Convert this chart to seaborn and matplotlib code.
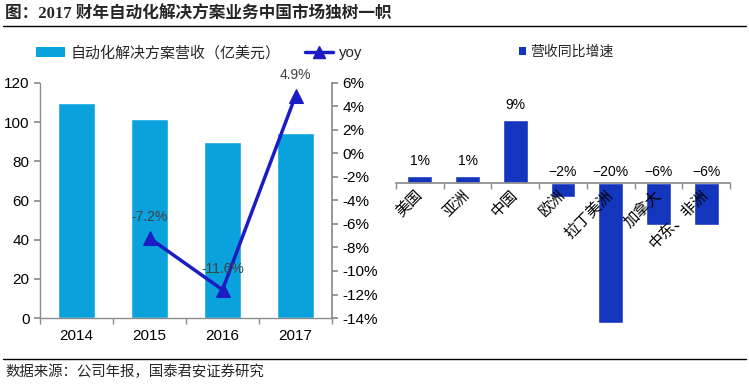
import matplotlib
matplotlib.use('Agg')
import matplotlib.pyplot as plt
import seaborn as sns
import pandas as pd
from matplotlib.lines import Line2D
from matplotlib.patches import Patch

# ---- data ----
years = ['2014', '2015', '2016', '2017']
revenue = [109.8, 101.7, 90.0, 94.4]
yoy_years = ['2015', '2016', '2017']
yoy = [-7.2, -11.6, 4.9]
yoy_labels = ['-7.2%', '-11.6%', '4.9%']
left_ticks = [0, 20, 40, 60, 80, 100, 120]
right_ticks = [-14, -12, -10, -8, -6, -4, -2, 0, 2, 4, 6]
right_tick_labels = ['-14%', '-12%', '-10%', '-8%', '-6%', '-4%', '-2%', '0%', '2%', '4%', '6%']

regions = ['美国', '亚洲', '中国', '欧洲', '拉丁美洲', '加拿大', '中东、非洲']
growth = [1, 1, 9, -2, -20, -6, -6]
growth_labels = ['1%', '1%', '9%', '\u22122%', '\u221220%', '\u22126%', '\u22126%']

title = '图：2017 财年自动化解决方案业务中国市场独树一帜'
source = '数据来源：公司年报，国泰君安证券研究'
bar_name = '自动化解决方案营收（亿美元）'
line_name = 'yoy'
growth_name = '营收同比增速'

# ---- style ----
sns.set_theme(style='white')
plt.rcParams['font.family'] = ['Liberation Sans', 'Noto Sans CJK SC', 'DejaVu Sans']
bar_color = '#0AA2DC'
line_color = '#1C1CC4'
bar2_color = '#1436BE'
spine_color = '#8C8C8C'
W, H = 749, 385

fig = plt.figure(figsize=(W / 100, H / 100), dpi=100)

# ---- left chart ----
ax = fig.add_axes([40 / W, 67 / H, 292 / W, 235 / H])
df = pd.DataFrame({'year': years, 'rev': revenue})
sns.barplot(data=df, x='year', y='rev', color=bar_color, saturation=1,
            width=0.52, ax=ax)
ax.set_xlim(-0.5, len(years) - 0.5)
ax.set_ylim(0, 120)
ax.set_yticks(left_ticks)
ax.set_xlabel('')
ax.set_ylabel('')
ax.set_xticks([i - 0.5 for i in range(len(years) + 1)], minor=True)
ax.tick_params(axis='x', which='major', length=0, labelsize=11, pad=8, colors='black')
ax.tick_params(axis='x', which='minor', length=4, color=spine_color, direction='out', bottom=True)
ax.tick_params(axis='y', length=4, color=spine_color, direction='out', left=True,
               labelsize=11, colors='black')
for s in ['top', 'right']:
    ax.spines[s].set_visible(False)
for s in ['left', 'bottom']:
    ax.spines[s].set_color(spine_color)
    ax.spines[s].set_linewidth(1)

ax2 = ax.twinx()
xpos = [years.index(y) for y in yoy_years]
sns.lineplot(x=xpos, y=yoy, ax=ax2, color=line_color, linewidth=2.5,
             marker='^', markersize=10, markeredgecolor=line_color)
ax2.set_ylim(-14, 6)
ax2.set_yticks(right_ticks)
ax2.set_yticklabels(right_tick_labels)
ax2.tick_params(axis='y', length=4, color=spine_color, direction='out', right=True,
                labelsize=11, colors='black')
for s in ['top', 'left', 'bottom']:
    ax2.spines[s].set_visible(False)
ax2.spines['right'].set_color(spine_color)
for x, v, t in zip(xpos, yoy, yoy_labels):
    ax2.annotate(t, (x, v), xytext=(0, 15), textcoords='offset points',
                 ha='center', va='center', fontsize=10, color='#404040')

fig.legend(handles=[Patch(facecolor=bar_color, edgecolor='none'),
                    Line2D([], [], color=line_color, lw=2.5, marker='^', ms=9)],
           labels=[bar_name, line_name], loc='center left',
           bbox_to_anchor=(30 / W, 1 - 53 / H), ncol=2, frameon=False,
           fontsize=10.8, columnspacing=1.6, handlelength=1.9,
           handletextpad=0.4, borderaxespad=0)

# ---- right chart ----
ax3 = fig.add_axes([396 / W, 62 / H, 334 / W, 224 / H])
df2 = pd.DataFrame({'region': regions, 'growth': growth})
sns.barplot(data=df2, x='region', y='growth', color=bar2_color, saturation=1,
            width=0.52, ax=ax3)
ax3.set_axisbelow(False)
ax3.set_xlim(-0.5, len(regions) - 0.5)
ax3.set_ylim(-20, 12)
ax3.set_xlabel('')
ax3.set_ylabel('')
ax3.set_yticks([])
for s in ['top', 'right', 'left']:
    ax3.spines[s].set_visible(False)
ax3.spines['bottom'].set_position(('data', 0))
ax3.spines['bottom'].set_color(spine_color)
ax3.set_xticks([i - 0.5 for i in range(len(regions) + 1)], minor=True)
ax3.tick_params(axis='x', which='minor', length=4, color=spine_color, direction='out', bottom=True)
ax3.tick_params(axis='x', which='major', length=0, labelsize=11, pad=7, colors='black')
plt.setp(ax3.get_xticklabels(), rotation=45, ha='right', va='center',
         rotation_mode='anchor')
for i, (v, t) in enumerate(zip(growth, growth_labels)):
    ax3.annotate(t, (i, max(v, 0)), xytext=(0, 11 if v > 0 else 8),
                 textcoords='offset points', ha='center', va='center',
                 fontsize=10, color='black')

fig.legend(handles=[Patch(facecolor=bar2_color, edgecolor='none')],
           labels=[growth_name], loc='center left',
           bbox_to_anchor=(513 / W, 1 - 52 / H), frameon=False, fontsize=10,
           handlelength=0.5, handleheight=0.5, handletextpad=0.3, borderaxespad=0)

# ---- title, rules, source ----
fig.text(5 / W, 1 - 15 / H, title, fontsize=12, fontweight='bold', va='center', ha='left',
         family=['Liberation Serif', 'Noto Sans CJK SC', 'DejaVu Sans'])
fig.add_artist(Line2D([3 / W, 746 / W], [1 - 26 / H, 1 - 26 / H], color='black', lw=1,
                      transform=fig.transFigure))
fig.add_artist(Line2D([3 / W, 746 / W], [1 - 359 / H, 1 - 359 / H], color='black', lw=1,
                      transform=fig.transFigure))
fig.text(5 / W, 1 - 372 / H, source, fontsize=10.4, va='center', ha='left')

fig.savefig('out.png', dpi=100)
